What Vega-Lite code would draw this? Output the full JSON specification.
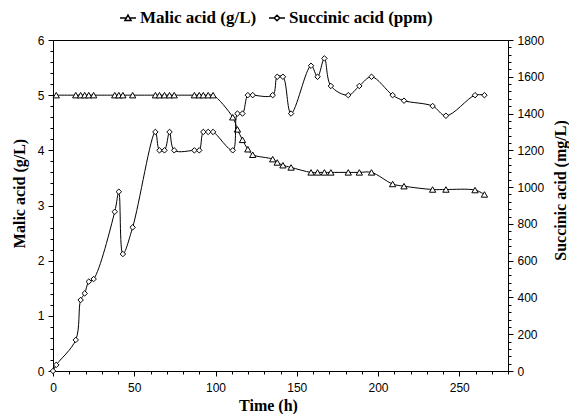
{
  "$schema": "https://vega.github.io/schema/vega-lite/v6.json",
  "width": 455,
  "height": 331,
  "autosize": "none",
  "padding": {"left": 53, "top": 40, "right": 61, "bottom": 43},
  "background": "white",
  "config": {
    "view": {"stroke": "black", "strokeWidth": 1},
    "axis": {
      "domainColor": "black",
      "tickColor": "black",
      "labelColor": "black",
      "labelFont": "Liberation Sans",
      "labelFontSize": 12,
      "titleFont": "Liberation Serif",
      "titleFontSize": 16,
      "titleFontWeight": "bold",
      "titleColor": "black",
      "grid": false
    }
  },
  "datasets": {
    "obs": [
      {"t": 2, "series": "malic", "value": 5.0},
      {"t": 14, "series": "malic", "value": 5.0},
      {"t": 17, "series": "malic", "value": 5.0},
      {"t": 19.5, "series": "malic", "value": 5.0},
      {"t": 22, "series": "malic", "value": 5.0},
      {"t": 25, "series": "malic", "value": 5.0},
      {"t": 38, "series": "malic", "value": 5.0},
      {"t": 40.5, "series": "malic", "value": 5.0},
      {"t": 43, "series": "malic", "value": 5.0},
      {"t": 49, "series": "malic", "value": 5.0},
      {"t": 63, "series": "malic", "value": 5.0},
      {"t": 65.5, "series": "malic", "value": 5.0},
      {"t": 68.6, "series": "malic", "value": 5.0},
      {"t": 71.7, "series": "malic", "value": 5.0},
      {"t": 74.6, "series": "malic", "value": 5.0},
      {"t": 87, "series": "malic", "value": 5.0},
      {"t": 90, "series": "malic", "value": 5.0},
      {"t": 92.5, "series": "malic", "value": 5.0},
      {"t": 95.5, "series": "malic", "value": 5.0},
      {"t": 98.5, "series": "malic", "value": 5.0},
      {"t": 110.6, "series": "malic", "value": 4.6},
      {"t": 113.5, "series": "malic", "value": 4.38},
      {"t": 116.6, "series": "malic", "value": 4.19},
      {"t": 119.9, "series": "malic", "value": 4.02},
      {"t": 122.9, "series": "malic", "value": 3.92},
      {"t": 135.2, "series": "malic", "value": 3.84},
      {"t": 138, "series": "malic", "value": 3.78},
      {"t": 141.5, "series": "malic", "value": 3.73},
      {"t": 146.5, "series": "malic", "value": 3.69},
      {"t": 158.8, "series": "malic", "value": 3.6},
      {"t": 162.8, "series": "malic", "value": 3.6},
      {"t": 167, "series": "malic", "value": 3.6},
      {"t": 171, "series": "malic", "value": 3.6},
      {"t": 181.7, "series": "malic", "value": 3.6},
      {"t": 188.5, "series": "malic", "value": 3.6},
      {"t": 196, "series": "malic", "value": 3.6},
      {"t": 209, "series": "malic", "value": 3.39},
      {"t": 216, "series": "malic", "value": 3.35},
      {"t": 233.6, "series": "malic", "value": 3.29},
      {"t": 241.8, "series": "malic", "value": 3.29},
      {"t": 259.7, "series": "malic", "value": 3.28},
      {"t": 265.5, "series": "malic", "value": 3.2},
      {"t": 0, "series": "succinic", "value": 0},
      {"t": 2, "series": "succinic", "value": 33},
      {"t": 14, "series": "succinic", "value": 169},
      {"t": 17, "series": "succinic", "value": 386},
      {"t": 19.5, "series": "succinic", "value": 422},
      {"t": 22, "series": "succinic", "value": 486},
      {"t": 25, "series": "succinic", "value": 500},
      {"t": 38, "series": "succinic", "value": 866},
      {"t": 40.5, "series": "succinic", "value": 975},
      {"t": 43, "series": "succinic", "value": 636},
      {"t": 49, "series": "succinic", "value": 781},
      {"t": 63, "series": "succinic", "value": 1300},
      {"t": 65.5, "series": "succinic", "value": 1200},
      {"t": 68.6, "series": "succinic", "value": 1200},
      {"t": 71.7, "series": "succinic", "value": 1300},
      {"t": 74.6, "series": "succinic", "value": 1200},
      {"t": 87, "series": "succinic", "value": 1200},
      {"t": 90, "series": "succinic", "value": 1200},
      {"t": 92.5, "series": "succinic", "value": 1300},
      {"t": 95.5, "series": "succinic", "value": 1300},
      {"t": 98.5, "series": "succinic", "value": 1300},
      {"t": 110.6, "series": "succinic", "value": 1200},
      {"t": 113.5, "series": "succinic", "value": 1400},
      {"t": 116.6, "series": "succinic", "value": 1400},
      {"t": 119.9, "series": "succinic", "value": 1500},
      {"t": 122.9, "series": "succinic", "value": 1500},
      {"t": 135.2, "series": "succinic", "value": 1500},
      {"t": 138, "series": "succinic", "value": 1600},
      {"t": 141.5, "series": "succinic", "value": 1600},
      {"t": 146.5, "series": "succinic", "value": 1400},
      {"t": 158.8, "series": "succinic", "value": 1660},
      {"t": 162.8, "series": "succinic", "value": 1600},
      {"t": 167, "series": "succinic", "value": 1700},
      {"t": 171, "series": "succinic", "value": 1550},
      {"t": 181.7, "series": "succinic", "value": 1500},
      {"t": 188.5, "series": "succinic", "value": 1550},
      {"t": 196, "series": "succinic", "value": 1600},
      {"t": 209, "series": "succinic", "value": 1500},
      {"t": 216, "series": "succinic", "value": 1470},
      {"t": 233.6, "series": "succinic", "value": 1441},
      {"t": 241.8, "series": "succinic", "value": 1388},
      {"t": 259.7, "series": "succinic", "value": 1500},
      {"t": 265.5, "series": "succinic", "value": 1500}
    ],
    "legendItems": [
      {"series": "Malic acid (g/L)"},
      {"series": "Succinic acid (ppm)"}
    ]
  },
  "layer": [
    {
      "data": {"name": "obs"},
      "transform": [{"filter": "datum.series === 'malic'"}],
      "encoding": {
        "x": {
          "field": "t", "type": "quantitative",
          "scale": {"domain": [0, 280], "nice": false},
          "axis": {
            "title": "Time (h)",
            "titleX": 215,
            "values": [0,10,20,30,40,50,60,70,80,90,100,110,120,130,140,150,160,170,180,190,200,210,220,230,240,250,260,270,280],
            "labelExpr": "datum.value % 50 === 0 ? format(datum.value, 'd') : ''",
            "tickSize": {"condition": {"test": "datum.value % 50 === 0", "value": 5}, "value": 3},
            "labelPadding": 6,
            "titlePadding": 4,
            "labelFlush": false,
            "labelOverlap": false
          }
        },
        "y": {
          "field": "value", "type": "quantitative",
          "scale": {"domain": [0, 6], "nice": false},
          "axis": {
            "orient": "left",
            "title": "Malic acid (g/L)",
            "titleY": 153,
            "values": [0,0.2,0.4,0.6,0.8,1,1.2,1.4,1.6,1.8,2,2.2,2.4,2.6,2.8,3,3.2,3.4,3.6,3.8,4,4.2,4.4,4.6,4.8,5,5.2,5.4,5.6,5.8,6],
            "labelExpr": "abs(datum.value - round(datum.value)) < 0.001 ? format(datum.value, 'd') : ''",
            "tickSize": {"condition": {"test": "abs(datum.value - round(datum.value)) < 0.001", "value": 5}, "value": 3},
            "labelPadding": 4,
            "titlePadding": 10,
            "labelFlush": false,
            "labelOverlap": false
          }
        }
      },
      "layer": [
        {"mark": {"type": "line", "color": "black", "strokeWidth": 1, "interpolate": "catmull-rom"}},
        {"mark": {"type": "point", "shape": "triangle-up", "size": 40, "filled": true, "fill": "white", "stroke": "black", "strokeWidth": 1, "opacity": 1}}
      ]
    },
    {
      "data": {"name": "obs"},
      "transform": [{"filter": "datum.series === 'succinic'"}],
      "encoding": {
        "x": {
          "field": "t", "type": "quantitative",
          "scale": {"domain": [0, 280], "nice": false},
          "axis": {
            "title": "Time (h)",
            "titleX": 215,
            "values": [0,10,20,30,40,50,60,70,80,90,100,110,120,130,140,150,160,170,180,190,200,210,220,230,240,250,260,270,280],
            "labelExpr": "datum.value % 50 === 0 ? format(datum.value, 'd') : ''",
            "tickSize": {"condition": {"test": "datum.value % 50 === 0", "value": 5}, "value": 3},
            "labelPadding": 6,
            "titlePadding": 4,
            "labelFlush": false,
            "labelOverlap": false
          }
        },
        "y": {
          "field": "value", "type": "quantitative",
          "scale": {"domain": [0, 1800], "nice": false},
          "axis": {
            "orient": "right",
            "title": "Succinic acid (mg/L)",
            "titleAngle": 270,
            "titleY": 150,
            "values": [0,40,80,120,160,200,240,280,320,360,400,440,480,520,560,600,640,680,720,760,800,840,880,920,960,1000,1040,1080,1120,1160,1200,1240,1280,1320,1360,1400,1440,1480,1520,1560,1600,1640,1680,1720,1760,1800],
            "labelExpr": "datum.value % 200 === 0 ? format(datum.value, 'd') : ''",
            "tickSize": {"condition": {"test": "datum.value % 200 === 0", "value": 5}, "value": 3},
            "labelPadding": 4,
            "titlePadding": 25,
            "labelFlush": false,
            "labelOverlap": false
          }
        }
      },
      "layer": [
        {"mark": {"type": "line", "color": "black", "strokeWidth": 1, "interpolate": "catmull-rom"}},
        {"mark": {"type": "point", "shape": "diamond", "size": 30, "filled": true, "fill": "white", "stroke": "black", "strokeWidth": 1, "opacity": 1}}
      ]
    },
    {
      "data": {"name": "legendItems"},
      "mark": {"type": "point", "size": 256, "filled": false, "color": "black", "strokeWidth": 1, "opacity": 0},
      "encoding": {
        "shape": {
          "field": "series", "type": "nominal",
          "scale": {
            "domain": ["Malic acid (g/L)", "Succinic acid (ppm)"],
            "range": [
              "M-1,0L-0.22,0M0.22,0L1,0M0,-0.36L0.38,0.3L-0.38,0.3Z",
              "M-1,0L-0.35,0M0.35,0L1,0M-0.35,0L0,-0.35L0.35,0L0,0.35Z"
            ]
          },
          "legend": {
            "title": null,
            "orient": "none",
            "direction": "horizontal",
            "legendX": 66,
            "legendY": -31,
            "padding": 0,
            "symbolSize": 256,
            "labelFont": "Liberation Serif",
            "labelFontSize": 17,
            "labelFontWeight": "bold",
            "labelColor": "black",
            "labelOffset": 3,
            "columnPadding": 9,
            "labelLimit": 300,
            "encode": {
              "symbols": {
                "update": {
                  "opacity": {"value": 1},
                  "fill": {"value": "white"},
                  "stroke": {"value": "black"},
                  "strokeWidth": {"value": 1},
                  "fillOpacity": {"value": 1},
                  "strokeOpacity": {"value": 1}
                }
              }
            }
          }
        }
      }
    }
  ],
  "resolve": {"scale": {"y": "independent"}}
}
